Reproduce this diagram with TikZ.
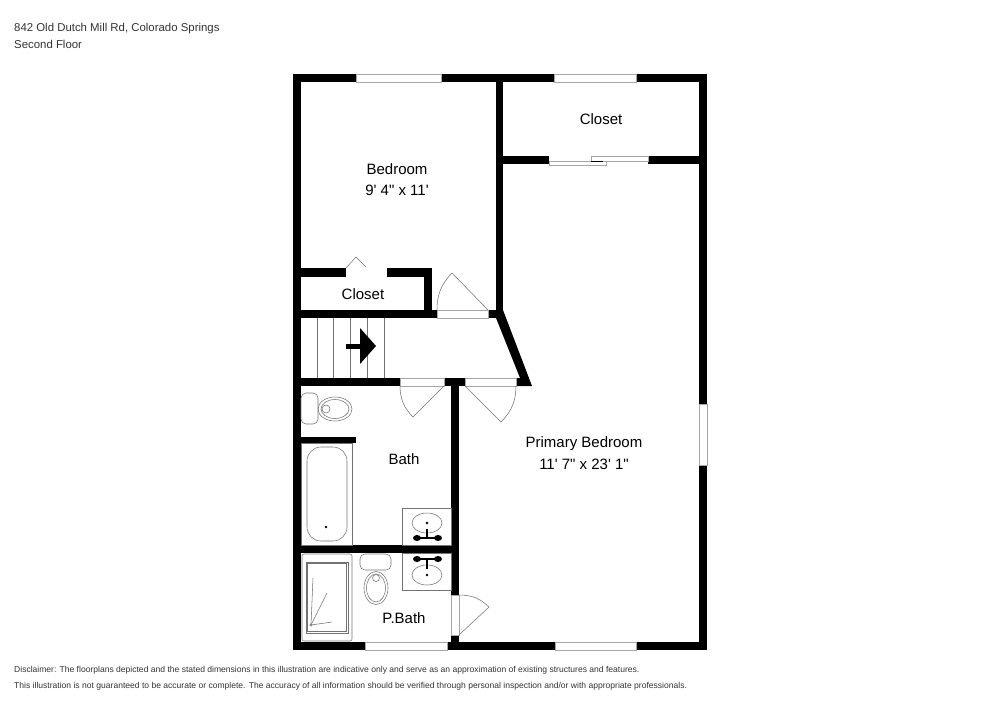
\documentclass[tikz,border=0pt]{standalone}
\usepackage{fontspec}
\newfontfamily\planfont{Liberation Sans}
\begin{document}
\begin{tikzpicture}[x=1pt, y=-1pt,
        wall/.style={fill=black},
        glass/.style={draw=black!35, line width=0.6pt, fill=white},
        fixture/.style={draw=black!55, line width=0.55pt},
        room_label/.style={font=\planfont\fontsize{15}{17}\selectfont, inner sep=0pt},
        note_label/.style={font=\planfont\fontsize{11.4}{13}\selectfont, text=black!80, inner sep=0pt, anchor=base west},
        small_label/.style={font=\planfont\fontsize{8.55}{10}\selectfont, text=black!80, inner sep=0pt, anchor=base west}
    ]
    \useasboundingbox (0,0) rectangle (1000,707);

    % Muri esterni
    \fill[wall] (293,74) rectangle (707,82);
    \fill[wall] (293,642) rectangle (707,650);
    \fill[wall] (293,74) rectangle (301,650);
    \fill[wall] (699,74) rectangle (707,650);

    % Muri interni
    \fill[wall] (496,74) rectangle (503,318);
    \fill[wall] (496,156) rectangle (549,164);
    \fill[wall] (648,156) rectangle (699,164);
    \fill[wall] (301,268) rectangle (346,277);
    \fill[wall] (387,268) rectangle (432,277);
    \fill[wall] (424,268) rectangle (432,318);
    \fill[wall] (293,310) rectangle (437,318);
    \fill[wall] (488,310) rectangle (503,318);
    \fill[wall] (496,310) -- (503,310) -- (532,386) -- (516,386) -- (516,378) -- (520,378) -- (496,318) -- cycle;
    \fill[wall] (293,378) rectangle (400,386);
    \fill[wall] (444,378) rectangle (465,386);
    \fill[wall] (451,386) rectangle (459,650);
    \fill[wall] (301,437) rectangle (356,443);
    \fill[wall] (301,545) rectangle (451,553);

    % Finestre
    \draw[glass] (356,74) rectangle (441,82);
    \draw[glass] (554,74) rectangle (636,82);
    \draw[glass] (555,642) rectangle (636,650);
    \draw[glass] (365,642) rectangle (447,650);
    \draw[glass] (699,404) rectangle (707,465);

    % Porte
    \draw[glass] (437,310) rectangle (488,318);
    \draw[glass] (400,378) rectangle (444,386);
    \draw[glass] (465,378) rectangle (516,386);
    \draw[glass] (451,595) rectangle (459,635);
    \draw[fixture] (488,310) -- (452,273) to[bend right=22] (437,310);
    \draw[fixture] (444,386) -- (413,417) to[bend left=22] (400,386);
    \draw[fixture] (465,386) -- (501,422) to[bend right=22] (516,386);
    \draw[fixture] (459,635) -- (489,607) to[bend right=22] (459,595);
    \draw[fixture] (346,268) -- (356,257) -- (366,267);
    \draw[glass] (549,161) rectangle (606,165);
    \draw[glass] (591,156) rectangle (648,161);
    \fill[wall] (591,160.5) rectangle (603,161.5);

    % Scala
    \foreach \x in {317,333.5,350.5,367.5,384.5} {
        \draw[fixture] (\x,318) -- (\x,378);
    }
    \fill[wall] (346,344) rectangle (361,349);
    \fill[wall] (360,328) -- (376,346) -- (360,364) -- cycle;

    % WC bagno
    \draw[fixture, rounded corners=5pt] (301,393) rectangle (318,424);
    \draw[fixture] (335,409) ellipse (17pt and 12pt);
    \draw[fixture] (335,409) ellipse (14pt and 9.5pt);
    \draw[fixture] (326,409) circle (4pt);

    % Vasca
    \draw[fixture] (301,443) rectangle (352,545);
    \draw[fixture, rounded corners=14pt] (307,447) rectangle (347,541);
    \fill[wall] (326,527) circle (1.3pt);

    % Lavandino bagno
    \draw[fixture] (402,508) rectangle (451,545);
    \draw[fixture] (427,523) ellipse (15pt and 10pt);
    \fill[wall] (427,523) circle (1.3pt);
    \draw[line width=1.2pt] (427,529) -- (427,538);
    \draw[line width=1.2pt] (417,538) -- (438,538);
    \fill[wall] (417,538) ellipse (4pt and 3pt);
    \fill[wall] (438,538) ellipse (4pt and 3pt);

    % Lavandino P.Bath
    \draw[fixture] (402,553) rectangle (451,590);
    \draw[fixture] (427,575) ellipse (15pt and 10pt);
    \fill[wall] (427,575) circle (1.3pt);
    \draw[line width=1.2pt] (427,559) -- (427,569);
    \draw[line width=1.2pt] (417,559) -- (438,559);
    \fill[wall] (417,559) ellipse (4pt and 3pt);
    \fill[wall] (438,559) ellipse (4pt and 3pt);

    % WC P.Bath
    \draw[fixture, rounded corners=5pt] (360,554) rectangle (391,570);
    \draw[fixture] (376,588) ellipse (12pt and 16.5pt);
    \draw[fixture] (376,588) ellipse (9.5pt and 14pt);
    \draw[fixture] (376,578) circle (3.5pt);

    % Doccia
    \draw[fixture, rounded corners=2pt] (302,554) rectangle (352,641);
    \draw[fixture] (306,562) rectangle (348,633);
    \draw[fixture] (307.5,563.5) rectangle (346.5,631.5);
    \draw[fixture] (311,625) -- (313,578);
    \draw[fixture] (311,625) -- (327,593);
    \draw[fixture] (311,625) -- (332,622);
    \draw[fixture] (311,625) circle (1.2pt);

    % Etichette stanze
    \node[room_label] (closet_top) at (601,119.5) {Closet};
    \node[room_label] (bedroom) at (397,169) {Bedroom};
    \node[room_label] (bedroom_size) at (397,190) {9' 4" x 11'};
    \node[room_label] (closet_low) at (363,294) {Closet};
    \node[room_label] (bath) at (404,459) {Bath};
    \node[room_label] (primary) at (584,444) {Primary Bedroom};
    \node[room_label] (primary_size) at (584,464) {11' 7" x 23' 1"};
    \node[room_label] (pbath) at (404,618) {P.Bath};

    % Intestazione e note
    \node[note_label] (address) at (14,31.7) {842 Old Dutch Mill Rd, Colorado Springs};
    \node[note_label] (floor) at (14,48.3) {Second Floor};
    \node[small_label] (note_one) at (14,672) {Disclaimer: The floorplans depicted and the stated dimensions in this illustration are indicative only and serve as an approximation of existing structures and features.};
    \node[small_label] (note_two) at (14,688.7) {This illustration is not guaranteed to be accurate or complete. The accuracy of all information should be verified through personal inspection and/or with appropriate professionals.};
\end{tikzpicture}
\end{document}
